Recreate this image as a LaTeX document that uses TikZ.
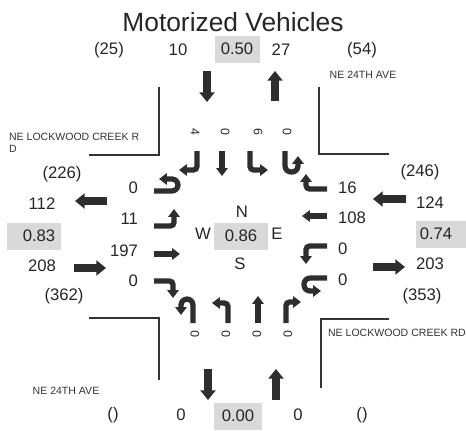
\documentclass[tikz,border=0pt]{standalone}
\usepackage{fontspec}
\setmainfont{Liberation Sans}
\usetikzlibrary{arrows.meta}
\definecolor{boxgray}{HTML}{D9D9D9}
\definecolor{arrowgray}{HTML}{2E2E2E}

\begin{document}
\begin{tikzpicture}[
  x=0.02cm, y=-0.02cm,
  lbl/.style={font=\fontsize{9.5}{11}\selectfont, text=black!85, inner sep=1pt},
  vol/.style={font=\fontsize{7}{8}\selectfont, text=black!85, inner sep=1pt},
  street/.style={font=\fontsize{6}{7}\selectfont, text=black!80, inner sep=1pt},
  phf/.style={lbl, fill=boxgray, minimum height=0.54cm},
  bigarr/.style={draw=arrowgray, line width=4.3pt, -{Triangle[width=8.5pt,length=5.5pt]}},
  turn/.style={draw=arrowgray, line width=3pt, rounded corners=2pt, -{Triangle[width=6.5pt,length=4.5pt]}},
  uturn/.style={turn, rounded corners=3.5pt},
  curb/.style={draw=black!80, line width=0.7pt}
]
\useasboundingbox (0,0) rectangle (466,430);

% title and north leg
\node[font=\fontsize{15}{17}\selectfont, text=black!85] (title) at (233,22) {Motorized Vehicles};
\node[lbl] (nTot) at (109,50) {(25)};
\node[lbl] (nOut) at (178,50) {10};
\node[phf, minimum width=0.9cm] (nPhf) at (237,49) {0.50};
\node[lbl] (nIn) at (281,50) {27};
\node[lbl] (nTot2) at (362,50) {(54)};
\node[street] (nStreet) at (363,75) {NE 24TH AVE};
\draw[bigarr] (207,71) -- (207,102);
\draw[bigarr] (275,101) -- (275,71);

% curbs
\draw[curb] (89,155) -- (159,155) -- (159,87);
\draw[curb] (319,87) -- (319,154) -- (389,154);
\draw[curb] (89,318) -- (159,318) -- (159,380);
\draw[curb] (321,388) -- (321,319) -- (389,319);

\node[street, anchor=west] (wStreet) at (7,137) {NE LOCKWOOD CREEK R};
\node[street, anchor=west] (wStreet2) at (7,149) {D};

% southbound movements
\node[vol, rotate=-90] (sbR) at (195,132) {4};
\node[vol, rotate=-90] (sbT) at (225,132) {0};
\node[vol, rotate=-90] (sbL) at (258,132) {6};
\node[vol, rotate=-90] (sbU) at (287,132) {0};
\draw[turn] (197,151) -- (197,170) -- (179,170);
\draw[turn] (222,151) -- (222,176);
\draw[turn] (250,151) -- (250,170) -- (268,170);
\draw[uturn] (285,151) -- (285,172) -- (298,172) -- (298,156);

% west leg
\node[lbl] (wTot) at (62,174) {(226)};
\node[lbl] (wOut) at (42,204) {112};
\node[phf, minimum width=1.08cm, text width=0.85cm, align=right] (wPhf) at (34,236) {0.83};
\node[lbl] (wIn) at (42,266) {208};
\node[lbl] (wTot2) at (64,296) {(362)};
\draw[bigarr] (107,201) -- (75,201);
\draw[bigarr] (74,268) -- (106,268);

% eastbound movements
\node[lbl, anchor=east] (ebU) at (140,188) {0};
\node[lbl, anchor=east] (ebL) at (140,219) {11};
\node[lbl, anchor=east] (ebT) at (140,251) {197};
\node[lbl, anchor=east] (ebR) at (140,281) {0};
\draw[uturn] (154,191) -- (178,191) -- (178,179) -- (159,179);
\draw[turn] (154,226) -- (174,226) -- (174,209);
\draw[turn] (154,254) -- (180,254);
\draw[turn] (154,281) -- (173,281) -- (173,298);

% intersection centre
\node[lbl] (cN) at (242,212) {N};
\node[lbl] (cW) at (203,234) {W};
\node[phf, minimum width=1.1cm] (cPhf) at (241,236) {0.86};
\node[lbl] (cE) at (277,234) {E};
\node[lbl] (cS) at (240,264) {S};

% westbound movements
\node[lbl, anchor=west] (wbR) at (336,188) {16};
\node[lbl, anchor=west] (wbT) at (336,218) {108};
\node[lbl, anchor=west] (wbL) at (336,249) {0};
\node[lbl, anchor=west] (wbU) at (336,280) {0};
\draw[turn] (327,189) -- (306,189) -- (306,174);
\draw[turn] (327,216) -- (302,216);
\draw[turn] (327,246) -- (306,246) -- (306,264);
\draw[uturn] (327,278) -- (304,278) -- (304,291) -- (321,291);

% east leg
\node[lbl] (eTot) at (420,172) {(246)};
\node[lbl] (eIn) at (430,203) {124};
\node[phf, minimum width=1cm, text width=0.85cm, align=left] (ePhf) at (441,234) {0.74};
\node[lbl] (eOut) at (430,264) {203};
\node[lbl] (eTot2) at (422,296) {(353)};
\draw[bigarr] (406,199) -- (373,199);
\draw[bigarr] (373,267) -- (405,267);

% northbound movements
\draw[uturn] (193,323) -- (193,299) -- (181,299) -- (181,315);
\draw[turn] (228,323) -- (228,303) -- (212,303);
\draw[turn] (258,323) -- (258,296);
\draw[turn] (286,323) -- (286,302) -- (301,302);
\node[vol, rotate=90] (nbU) at (195,334) {0};
\node[vol, rotate=90] (nbL) at (226,334) {0};
\node[vol, rotate=90] (nbT) at (257,334) {0};
\node[vol, rotate=90] (nbR) at (288,334) {0};

% south leg
\node[street, anchor=west] (eStreet) at (326,333) {NE LOCKWOOD CREEK RD};
\node[street] (sStreet) at (66,391) {NE 24TH AVE};
\draw[bigarr] (208,369) -- (208,400);
\draw[bigarr] (276,400) -- (276,369);
\node[lbl] (sTot) at (113,415) {()};
\node[lbl] (sOut) at (181,415) {0};
\node[phf, minimum width=0.96cm] (sPhf) at (238,416) {0.00};
\node[lbl] (sIn) at (298,415) {0};
\node[lbl] (sTot2) at (362,415) {()};
\end{tikzpicture}
\end{document}
